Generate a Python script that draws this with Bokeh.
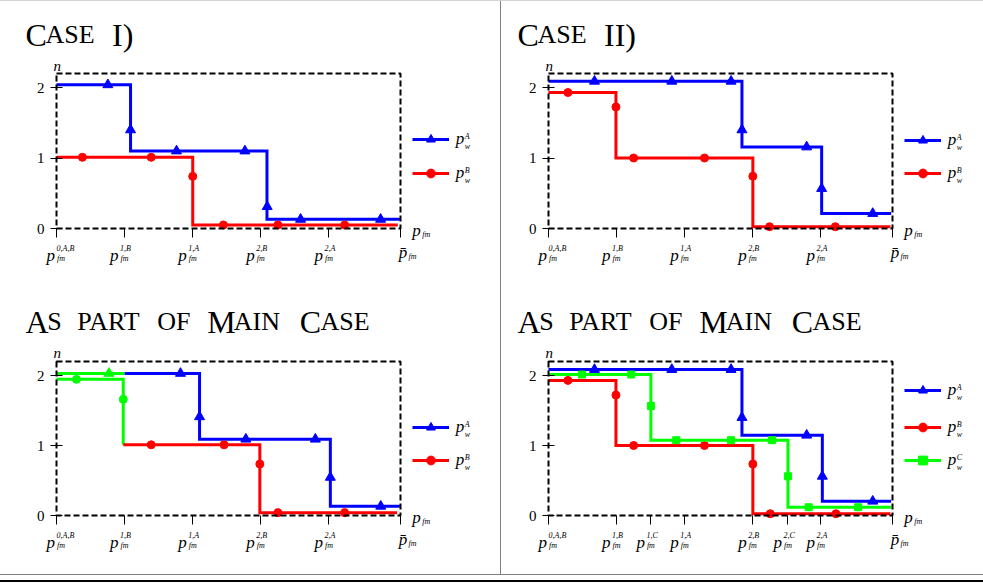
from bokeh.plotting import figure
from bokeh.models import Range1d, FixedTicker, Label, Legend, LegendItem, Div, BoxAnnotation
from bokeh.layouts import row, column
from bokeh.embed import file_html
from bokeh.resources import INLINE

# ---------------- data ----------------
x_max = 5.05
y_max = 2.2
y_ticks = [0, 1, 2]
x_ticks = [0, 1, 2, 3, 4, 5.05]
x_tick_base = ["p", "p", "p", "p", "p", "p\u0304"]
x_tick_sup = ["0,A,B", "1,B", "1,A", "2,B", "2,A", ""]
x_ticks_main = [0, 1, 1.503, 2, 3, 3.515, 4, 5.05]
x_tick_base_main = ["p", "p", "p", "p", "p", "p", "p", "p\u0304"]
x_tick_sup_main = ["0,A,B", "1,B", "1,C", "1,A", "2,B", "2,C", "2,A", ""]

# Case I
c1_A_x = [0, 1.087, 3.09, 5.04]
c1_A_y = [2.04, 1.10, 0.13, 0.13]
c1_A_mx = [0.754, 1.087, 1.762, 2.766, 3.093, 3.583, 4.758]
c1_A_my = [2.04, 1.40, 1.10, 1.10, 0.31, 0.13, 0.13]
c1_B_x = [0, 2.0, 5.01]
c1_B_y = [1.01, 0.05, 0.05]
c1_B_mx = [0.38, 1.39, 2.0, 2.45, 3.25, 4.23]
c1_B_my = [1.01, 1.01, 0.74, 0.05, 0.05, 0.05]

# Case II
c2_A_x = [0, 2.84, 4.01, 5.03]
c2_A_y = [2.09, 1.157, 0.213, 0.213]
c2_A_mx = [0.675, 1.81, 2.68, 2.84, 3.79, 4.01, 4.76]
c2_A_my = [2.09, 2.09, 2.09, 1.40, 1.157, 0.567, 0.213]
c2_B_x = [0, 0.99, 3.0, 5.02]
c2_B_y = [1.93, 1.0, 0.025, 0.025]
c2_B_mx = [0.285, 0.99, 1.25, 2.29, 3.0, 3.245, 4.21]
c2_B_my = [1.93, 1.725, 1.0, 1.0, 0.742, 0.025, 0.025]

# Case I as part of main case
m1_Ag_x = [0, 1.0]
m1_Ag_y = [2.03, 2.03]
m1_Ag_mx = [0.77]
m1_Ag_my = [2.03]
m1_Ab_x = [1.0, 2.10, 4.02, 5.04]
m1_Ab_y = [2.03, 1.09, 0.132, 0.132]
m1_Ab_mx = [1.82, 2.10, 2.78, 3.80, 4.02, 4.76]
m1_Ab_my = [2.03, 1.41, 1.09, 1.09, 0.545, 0.132]
m1_Bg_x = [0, 0.98]
m1_Bg_y = [1.945, 1.01]
m1_Bg_mx = [0.294, 0.98]
m1_Bg_my = [1.945, 1.66]
m1_Br_x = [0.98, 2.985, 5.0]
m1_Br_y = [1.01, 0.04, 0.04]
m1_Br_mx = [1.39, 2.46, 2.985, 3.25, 4.23]
m1_Br_my = [1.01, 1.01, 0.735, 0.04, 0.04]

# Case II as part of main case
m2_A_x = [0, 2.84, 4.02, 5.03]
m2_A_y = [2.085, 1.147, 0.204, 0.204]
m2_A_mx = [0.675, 1.81, 2.68, 2.84, 3.79, 4.02, 4.76]
m2_A_my = [2.085, 2.085, 2.085, 1.40, 1.147, 0.56, 0.204]
m2_B_x = [0, 0.99, 3.0, 5.02]
m2_B_y = [1.93, 1.0, 0.025, 0.025]
m2_B_mx = [0.285, 0.99, 1.25, 2.29, 3.0, 3.255, 4.22]
m2_B_my = [1.93, 1.72, 1.0, 1.0, 0.735, 0.025, 0.025]
m2_C_x = [0, 1.503, 3.515, 5.03]
m2_C_y = [2.014, 1.076, 0.118, 0.118]
m2_C_mx = [0.49, 1.215, 1.503, 1.875, 2.68, 3.28, 3.515, 3.82, 4.545]
m2_C_my = [2.014, 2.014, 1.564, 1.076, 1.076, 1.076, 0.56, 0.118, 0.118]

# ---------------- styling ----------------
FONT = "'Liberation Serif', 'DejaVu Serif', serif"
BLUE = "#0000ff"
RED = "#ff0000"
GREEN = "#00ff00"
LW = 3
BOX_W = 344


class Panel:
    def __init__(self, W, H, L, T, BH, ticks):
        self.L = L
        self.B = H - T - BH
        ppx = BOX_W / x_max
        ppy = BH / y_max
        p = figure(width=W, height=H,
                   x_range=Range1d(-L / ppx, x_max + (W - L - BOX_W) / ppx),
                   y_range=Range1d(-self.B / ppy, y_max + T / ppy),
                   output_backend="svg", toolbar_location=None,
                   min_border=0, min_border_left=0, min_border_right=0,
                   min_border_top=0, min_border_bottom=0, margin=0)
        p.xgrid.visible = False
        p.ygrid.visible = False
        p.outline_line_color = None
        p.background_fill_color = "white"
        p.border_fill_color = "white"
        p.add_layout(BoxAnnotation(left=0, right=x_max, bottom=0, top=y_max,
                                   fill_alpha=0, fill_color=None,
                                   line_color="black", line_alpha=1.0,
                                   line_width=2, line_dash="6 3"))
        p.xaxis.fixed_location = 0
        p.yaxis.fixed_location = 0
        p.xaxis.ticker = FixedTicker(ticks=ticks)
        p.yaxis.ticker = FixedTicker(ticks=y_ticks)
        for ax in (p.xaxis[0], p.yaxis[0]):
            ax.axis_line_color = None
            ax.major_tick_line_color = "black"
            ax.major_tick_line_width = 1
            ax.minor_tick_line_color = None
        p.xaxis.major_tick_in = 0
        p.xaxis.major_tick_out = 9
        p.xaxis.major_label_text_color = None
        p.yaxis.major_tick_in = 6
        p.yaxis.major_tick_out = 6
        p.yaxis.major_label_standoff = 6
        p.yaxis.major_label_text_font = FONT
        p.yaxis.major_label_text_font_size = "15px"
        p.yaxis.major_label_text_color = "black"
        self.p = p

    def txt(self, x, y, text, size, style="italic", xu="screen", dx=0):
        xs = x + self.L if xu == "screen" else x
        self.p.add_layout(Label(x=xs, y=y + self.B, x_units=xu, y_units="screen", x_offset=dx,
                                text=text, text_font=FONT, text_font_size=f"{size}px",
                                text_font_style=style, text_color="black",
                                text_baseline="alphabetic", text_align="left"))

    def series(self, xs, ys, mx, my, color, marker, msize):
        r1 = self.p.step(x=xs, y=ys, mode="after", line_color=color, line_width=LW,
                         line_join="miter")
        r2 = self.p.scatter(x=mx, y=my, marker=marker, size=msize,
                            fill_color=color, line_color=color)
        return [r1, r2]

    def decorate(self, ticks, bases, sups, title_pieces):
        for i, (t, b, s) in enumerate(zip(ticks, bases, sups)):
            if s == "":
                self.txt(t, -23.5, b, 17, xu="data", dx=-1.7)
                self.txt(t, -27.5, "fm", 8, xu="data", dx=8)
            else:
                off = -10 if i == 0 else -14.5
                self.txt(t, -26.5, b, 17, xu="data", dx=off)
                self.txt(t, -20.3, s, 8, xu="data", dx=off + 10)
                self.txt(t, -30, "fm", 8, xu="data", dx=off + 10.5)
        self.txt(-3, 163, "n", 15)
        self.txt(355.7, -2.4, "p", 17)
        self.txt(365.7, -5.5, "fm", 8)
        for dx, t, sz in title_pieces:
            self.txt(dx, 194, t, sz, style="normal")

    def legend(self, items, rows_y):
        # one legend entry per row, each placed at its own row height
        for (r, s), y in zip(items, rows_y):
            leg = Legend(items=[LegendItem(label="p", renderers=r)],
                         location=(self.L + 355.7, self.B + y - 11),
                         orientation="vertical",
                         glyph_width=37, glyph_height=22, label_height=22, label_width=8,
                         spacing=0, label_standoff=7, padding=0, margin=0,
                         border_line_color=None, background_fill_alpha=0,
                         label_text_font=FONT, label_text_font_style="italic",
                         label_text_font_size="17px", label_text_color="black")
            self.p.add_layout(leg)
            self.txt(355.7 + 37 + 7 + 8.5, y + 3, s, 8)
            self.txt(355.7 + 37 + 7 + 8.5, y - 7, "w", 8)


title_c1 = [(-31, "C", 32), (-11, "ASE", 26), (55.5, "I)", 32)]
title_c2 = [(-31, "C", 32), (-11, "ASE", 26), (55.5, "II)", 32)]
title_m = [(-31, "A", 32), (-9.3, "S", 26), (20.7, "PART", 26), (100.7, "OF", 26),
           (150.7, "M", 32), (177.3, "AIN", 26), (243.3, "C", 32), (264, "ASE", 26)]

# Panel 1: Case I
P1 = Panel(500, 284, 56, 72, 155, x_ticks)
a1 = P1.series(c1_A_x, c1_A_y, c1_A_mx, c1_A_my, BLUE, "triangle", 10)
b1 = P1.series(c1_B_x, c1_B_y, c1_B_mx, c1_B_my, RED, "circle", 8)
P1.decorate(x_ticks, x_tick_base, x_tick_sup, title_c1)
P1.legend([(a1, "A"), (b1, "B")], [88.7, 55.3])

# Panel 2: Case II
P2 = Panel(482, 284, 47, 72, 155, x_ticks)
a2 = P2.series(c2_A_x, c2_A_y, c2_A_mx, c2_A_my, BLUE, "triangle", 10)
b2 = P2.series(c2_B_x, c2_B_y, c2_B_mx, c2_B_my, RED, "circle", 8)
P2.decorate(x_ticks, x_tick_base, x_tick_sup, title_c2)
P2.legend([(a2, "A"), (b2, "B")], [88, 54.7])

# Panel 3: Case I as part of main case
P3 = Panel(500, 289, 56, 76, 154, x_ticks)
P3.series(m1_Ag_x, m1_Ag_y, m1_Ag_mx, m1_Ag_my, GREEN, "triangle", 10)
a3 = P3.series(m1_Ab_x, m1_Ab_y, m1_Ab_mx, m1_Ab_my, BLUE, "triangle", 10)
P3.series(m1_Bg_x, m1_Bg_y, m1_Bg_mx, m1_Bg_my, GREEN, "circle", 8)
b3 = P3.series(m1_Br_x, m1_Br_y, m1_Br_mx, m1_Br_my, RED, "circle", 8)
P3.decorate(x_ticks, x_tick_base, x_tick_sup, title_m)
P3.legend([(a3, "A"), (b3, "B")], [88.3, 55])

# Panel 4: Case II as part of main case
P4 = Panel(482, 289, 47, 76, 154, x_ticks_main)
a4 = P4.series(m2_A_x, m2_A_y, m2_A_mx, m2_A_my, BLUE, "triangle", 10)
b4 = P4.series(m2_B_x, m2_B_y, m2_B_mx, m2_B_my, RED, "circle", 8)
c4 = P4.series(m2_C_x, m2_C_y, m2_C_mx, m2_C_my, GREEN, "square", 7)
P4.decorate(x_ticks_main, x_tick_base_main, x_tick_sup_main, title_m)
P4.legend([(a4, "A"), (b4, "B"), (c4, "C")], [124.7, 88.3, 55])

topline = Div(width=983, height=1, margin=0, styles={"background-color": "#d4d4d4"})
vdiv = Div(width=1, height=573, margin=0, styles={"background-color": "#808080"})
hgray = Div(width=983, height=1, margin=0, styles={"background-color": "#808080"})
hgap = Div(width=983, height=5, margin=0)
hblack = Div(width=983, height=2, margin=0, styles={"background-color": "#000000"})

layout = column(topline,
                row(column(P1.p, P3.p), vdiv, column(P2.p, P4.p)),
                hgray, hgap, hblack)

open("out.html", "w").write(file_html(layout, INLINE))
